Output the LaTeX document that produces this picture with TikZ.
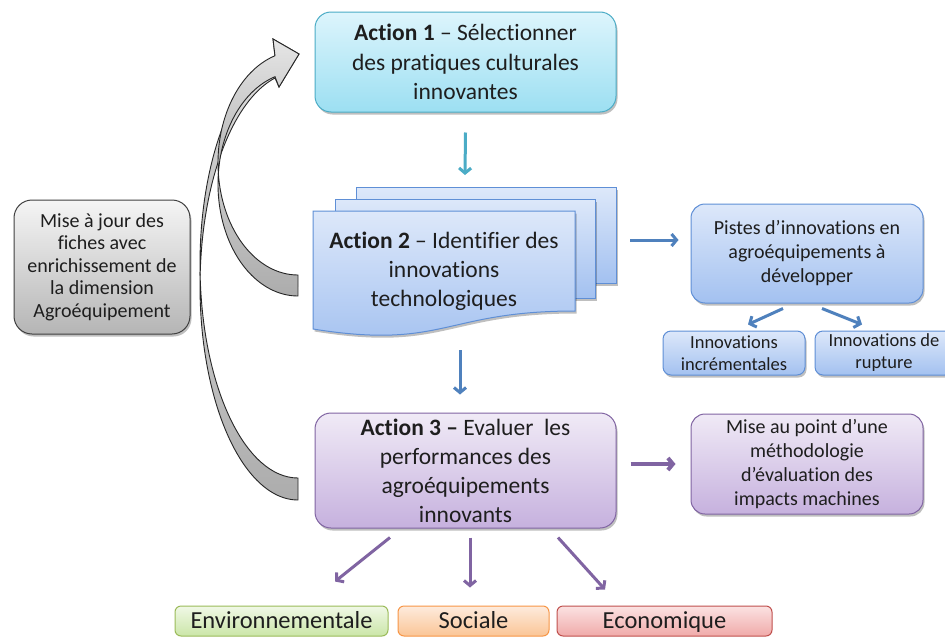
\documentclass[tikz,border=0pt]{standalone}
\usepackage{fontspec}
\setmainfont{Carlito}[Ligatures=NoCommon]
\usetikzlibrary{arrows.meta,shadows,calc}
\definecolor{txt}{HTML}{1E1E1E}
\definecolor{cyanline}{HTML}{4BACC6}
\definecolor{cyantop}{HTML}{DDF5FC}
\definecolor{cyanbot}{HTML}{9CDFF2}
\definecolor{blueline}{HTML}{5F8FD6}
\definecolor{bluetop}{HTML}{DDE8FA}
\definecolor{bluebot}{HTML}{A3C1F0}
\definecolor{purpline}{HTML}{8064A2}
\definecolor{purptop}{HTML}{F0EAF6}
\definecolor{purpbot}{HTML}{C6B1DE}
\definecolor{greyline}{HTML}{404040}
\definecolor{greytop}{HTML}{F5F5F5}
\definecolor{greybot}{HTML}{B5B5B5}
\definecolor{greenline}{HTML}{9BBB59}
\definecolor{greentop}{HTML}{F0F8E6}
\definecolor{greenbot}{HTML}{CBE6A8}
\definecolor{orangeline}{HTML}{F79646}
\definecolor{orangetop}{HTML}{FDEBDD}
\definecolor{orangebot}{HTML}{FBC596}
\definecolor{redline}{HTML}{C0504D}
\definecolor{redtop}{HTML}{FBE2E2}
\definecolor{redbot}{HTML}{F0AAA9}
\definecolor{tealarrow}{HTML}{4BACC6}
\definecolor{bluearrow}{HTML}{4F81BD}
\definecolor{purparrow}{HTML}{8064A2}
\tikzset{
  tx/.style={text=txt, align=center, inner sep=0pt},
  shadowed/.style={drop shadow={shadow xshift=1.5pt,shadow yshift=-2.5pt,opacity=0.25,fill=black}},
  cyanbox/.style={draw=cyanline, top color=cyantop, bottom color=cyanbot, line width=1pt},
  bluebox/.style={draw=blueline, top color=bluetop, bottom color=bluebot, line width=1pt},
  purpbox/.style={draw=purpline, top color=purptop, bottom color=purpbot, line width=1pt},
  greybox/.style={draw=greyline, top color=greytop, bottom color=greybot, line width=1pt},
  greenbox/.style={draw=greenline, top color=greentop, bottom color=greenbot, line width=1pt},
  orangebox/.style={draw=orangeline, top color=orangetop, bottom color=orangebot, line width=1pt},
  redbox/.style={draw=redline, top color=redtop, bottom color=redbot, line width=1pt},
  actbox/.style={tx, rounded corners=16pt, shadowed, font=\fontsize{23.5}{29.5}\selectfont},
  sidebox/.style={tx, rounded corners=14pt, shadowed, font=\fontsize{20}{24}\selectfont},
  smallbox/.style={tx, rounded corners=8pt, shadowed, font=\fontsize{18.5}{22}\selectfont},
  dimbox/.style={tx, rounded corners=6pt, font=\fontsize{24.5}{28}\selectfont, text height=18pt, text depth=3pt},
  conn/.style={line width=3pt, -{Straight Barb[length=5pt,width=12pt]}},
  connthick/.style={line width=4pt, -{Straight Barb[length=5pt,width=12pt]}},
  garrowfront/.style={draw=black!85, line width=0.9pt, top color=gray!20, bottom color=gray!60},
  garrowback/.style={draw=black!85, line width=0.9pt, top color=gray!40, bottom color=gray!65},
}
\begin{document}
\begin{tikzpicture}[x=1pt,y=-1pt]
\fill[white] (0,0) rectangle (945,637);
\useasboundingbox (0,0) rectangle (945,637);

% ---- curved grey arrows (feedback to Action 1)
% long arrow from Action 3
\path[garrowback] (200.13,275) arc[start angle=182.95, end angle=90, x radius=98, y radius=214]
  -- (298,478) arc[start angle=90, end angle=177.05, x radius=98, y radius=214] -- cycle;
\path[garrowfront] (200.13,275) arc[start angle=177.05, end angle=256.4, x radius=98, y radius=214]
  -- (273,39) -- (299,54) -- (279,87) -- (275,78)
  arc[start angle=256.4, end angle=182.95, x radius=98, y radius=214] -- cycle;
% short arrow from Action 2
\path[garrowback] (218.35,173.5) arc[start angle=185.38, end angle=90, x radius=80, y radius=112]
  -- (298,275) arc[start angle=90, end angle=174.62, x radius=80, y radius=112] -- cycle;
\path[garrowfront] (218.35,173.5) arc[start angle=174.62, end angle=253.29, x radius=80, y radius=112]
  -- (273,39) -- (299,54) -- (279,87) -- (275,76.7)
  arc[start angle=253.29, end angle=185.38, x radius=80, y radius=112] -- cycle;

% ---- left box
\node[tx, greybox, rounded corners=18pt, shadowed, minimum width=176pt, minimum height=134pt,
  font=\fontsize{20}{22.5}\selectfont] (maj) at (102,267)
  {Mise à jour des\\fiches avec\\enrichissement de\\la dimension\\Agroéquipement};

% ---- Action 1
\node[actbox, cyanbox, minimum width=301pt, minimum height=100pt] (a1) at (465.5,62)
  {\textbf{Action 1} – Sélectionner\\des pratiques culturales\\innovantes};

% ---- Action 2 (stack of documents)
\node[bluebox, shadowed, minimum width=260pt, minimum height=96pt, inner sep=0pt] (d3) at (486,235) {};
\node[bluebox, shadowed, minimum width=260pt, minimum height=99pt, inner sep=0pt] (d2) at (465,248.5) {};
\path[bluebox, shadowed] (313,211) -- (575,211) -- (575,311)
  .. controls (444,311) and (444,350) .. (313,329) -- cycle;
\node[tx, font=\fontsize{23.5}{29}\selectfont] (a2) at (444,271)
  {\textbf{Action 2} – Identifier des\\innovations\\technologiques};
\coordinate (a2top) at (465,187);
\coordinate (a2out) at (630,240);
\coordinate (a2bottom) at (460,330);

% ---- right of Action 2
\node[sidebox, bluebox, minimum width=232pt, minimum height=99pt] (pistes) at (807,253.5)
  {Pistes d’innovations en\\agroéquipements à\\développer};
\node[smallbox, bluebox, minimum width=142pt, minimum height=44pt] (inc) at (734,353)
  {Innovations\\incrémentales};
\node[smallbox, bluebox, minimum width=138pt, minimum height=44pt] (rup) at (884,353)
  {Innovations de\\rupture};

% ---- Action 3
\node[actbox, purpbox, minimum width=301pt, minimum height=115pt, font=\fontsize{23.5}{29}\selectfont] (a3) at (465.5,470.5)
  {\textbf{Action 3 –} Evaluer\ \ les\\performances des\\agroéquipements\\innovants};
\node[sidebox, purpbox, minimum width=232pt, minimum height=100pt] (mise) at (807,464)
  {Mise au point d’une\\méthodologie\\d’évaluation des\\impacts machines};

% ---- bottom dimensions
\node[dimbox, greenbox, minimum width=213pt, minimum height=30pt] (env) at (281.5,621) {Environnementale};
\node[dimbox, orangebox, minimum width=151pt, minimum height=30pt] (soc) at (473.5,621) {Sociale};
\node[dimbox, redbox, minimum width=215pt, minimum height=30pt] (eco) at (664.5,621) {Economique};

% ---- connectors
\draw[conn, tealarrow] (a1.south) ++(0,20) -- ($(a2top)+(0,-12)$);
\draw[conn, bluearrow] (a2out) -- ($(a2out -| pistes.west)+(-12,0)$);
\draw[conn, bluearrow] ([xshift=-24pt,yshift=-5pt]pistes.south) -- ([xshift=14pt,yshift=6pt]inc.north);
\draw[conn, bluearrow] ([xshift=15pt,yshift=-5pt]pistes.south) -- ([xshift=-22pt,yshift=6pt]rup.north);
\draw[conn, bluearrow, shorten <=20pt, shorten >=18pt] (a2bottom) -- (a2bottom |- a3.north);
\draw[connthick, purparrow, shorten <=14pt, shorten >=15pt] (a3.east |- mise.west) -- (mise.west);
\draw[conn, purparrow] ([xshift=-75.5pt,yshift=-9pt]a3.south) -- ([xshift=53.5pt,yshift=24pt]env.north);
\draw[conn, purparrow] ([xshift=4.5pt,yshift=-9pt]a3.south) -- ([xshift=-3.5pt,yshift=18pt]soc.north);
\draw[conn, purparrow] ([xshift=92.5pt,yshift=-9pt]a3.south) -- ([xshift=-59.5pt,yshift=16pt]eco.north);
\end{tikzpicture}
\end{document}
